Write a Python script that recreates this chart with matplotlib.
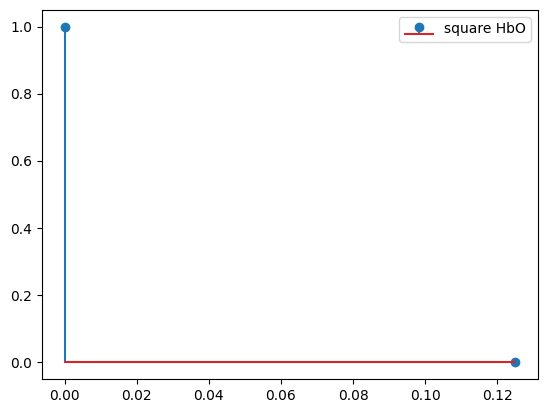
import matplotlib
matplotlib.use("Agg")
import matplotlib.pyplot as plt

# stem data
x_vals = [0.0, 0.125]
y_vals = [1.0, 0.0]
label = "square HbO"

fig = plt.figure(figsize=(5.47, 4.13), dpi=100)
ax = fig.add_axes([42/547, 34/413, 496/547, 369/413])

ax.stem(x_vals, y_vals, label=label)
ax.legend(loc="upper right")

fig.savefig("out.png", dpi=100)
